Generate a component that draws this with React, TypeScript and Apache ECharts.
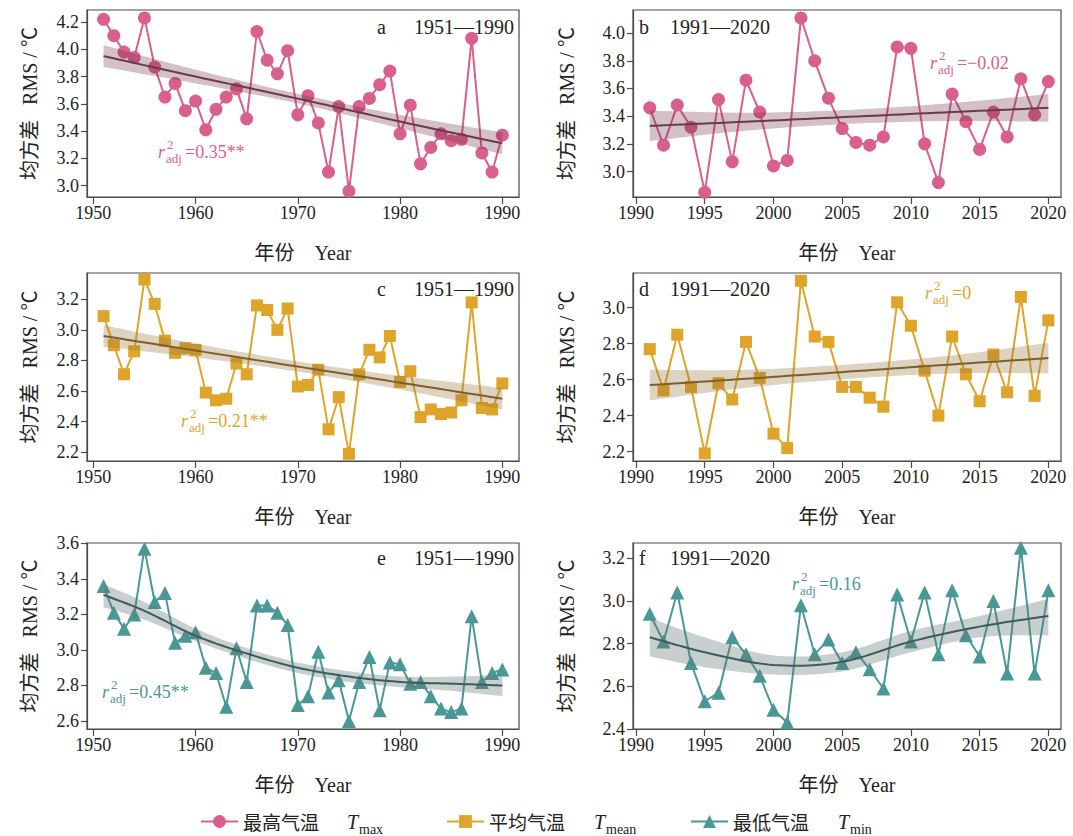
import React, { useEffect, useRef } from "react";
import * as echarts from "echarts";

// ---------- data ----------
const years1 = [1951,1952,1953,1954,1955,1956,1957,1958,1959,1960,1961,1962,1963,1964,1965,1966,1967,1968,1969,1970,1971,1972,1973,1974,1975,1976,1977,1978,1979,1980,1981,1982,1983,1984,1985,1986,1987,1988,1989,1990];
const years2 = [1991,1992,1993,1994,1995,1996,1997,1998,1999,2000,2001,2002,2003,2004,2005,2006,2007,2008,2009,2010,2011,2012,2013,2014,2015,2016,2017,2018,2019,2020];

const tmax1 = [4.22,4.10,3.98,3.94,4.23,3.87,3.65,3.75,3.55,3.62,3.41,3.56,3.65,3.71,3.49,4.13,3.92,3.82,3.99,3.52,3.66,3.46,3.10,3.58,2.96,3.58,3.64,3.74,3.84,3.38,3.59,3.16,3.28,3.38,3.33,3.34,4.08,3.24,3.10,3.37];
const tmax2 = [3.46,3.19,3.48,3.32,2.85,3.52,3.07,3.66,3.43,3.04,3.08,4.11,3.80,3.53,3.31,3.21,3.19,3.25,3.90,3.89,3.20,2.92,3.56,3.36,3.16,3.43,3.25,3.67,3.41,3.65];
const tmean1 = [3.09,2.90,2.71,2.86,3.33,3.17,2.93,2.85,2.88,2.87,2.59,2.54,2.55,2.78,2.71,3.16,3.13,3.00,3.14,2.63,2.64,2.74,2.35,2.56,2.19,2.71,2.87,2.82,2.96,2.66,2.73,2.43,2.48,2.45,2.46,2.54,3.18,2.49,2.48,2.65];
const tmean2 = [2.77,2.54,2.85,2.56,2.19,2.58,2.49,2.81,2.61,2.30,2.22,3.15,2.84,2.81,2.56,2.56,2.50,2.45,3.03,2.90,2.65,2.40,2.84,2.63,2.48,2.74,2.53,3.06,2.51,2.93];
const tmin1 = [3.36,3.21,3.12,3.20,3.57,3.27,3.32,3.04,3.08,3.10,2.90,2.87,2.68,3.01,2.82,3.25,3.25,3.21,3.14,2.69,2.74,2.99,2.76,2.83,2.60,2.82,2.96,2.66,2.93,2.92,2.81,2.82,2.74,2.67,2.65,2.67,3.19,2.82,2.87,2.89];
const tmin2 = [2.94,2.81,3.04,2.71,2.53,2.57,2.83,2.75,2.65,2.49,2.43,2.98,2.75,2.82,2.71,2.76,2.68,2.59,3.03,2.81,3.04,2.75,3.05,2.84,2.74,3.00,2.66,3.25,2.66,3.05];

// fitted trends and confidence bands
const trYearsA = [1951, 1960, 1970.5, 1980, 1990];
const trFitA = [3.95, 3.80, 3.63, 3.47, 3.31];
const trLoA = [3.87, 3.75, 3.595, 3.42, 3.23];
const trHiA = [4.03, 3.85, 3.665, 3.52, 3.39];

const trYearsB = [1991, 1998, 2005.5, 2013, 2020];
const trFitB = [3.33, 3.36, 3.395, 3.43, 3.46];
const trLoB = [3.22, 3.295, 3.345, 3.365, 3.36];
const trHiB = [3.44, 3.425, 3.445, 3.495, 3.56];

const trYearsC = [1951, 1960, 1970.5, 1980, 1990];
const trFitC = [2.96, 2.865, 2.755, 2.655, 2.55];
const trLoC = [2.89, 2.82, 2.722, 2.61, 2.48];
const trHiC = [3.03, 2.91, 2.788, 2.70, 2.62];

const trYearsD = [1991, 1998, 2005.5, 2013, 2020];
const trFitD = [2.57, 2.605, 2.645, 2.685, 2.72];
const trLoD = [2.485, 2.555, 2.605, 2.635, 2.635];
const trHiD = [2.655, 2.655, 2.685, 2.735, 2.805];

const trYearsE = [1951, 1955, 1960, 1965, 1970, 1975, 1980, 1985, 1990];
const trFitE = [3.31, 3.22, 3.08, 2.98, 2.90, 2.85, 2.82, 2.81, 2.80];
const trLoE = [3.24, 3.17, 3.05, 2.95, 2.87, 2.82, 2.79, 2.77, 2.74];
const trHiE = [3.37, 3.27, 3.12, 3.01, 2.93, 2.88, 2.85, 2.85, 2.86];

const trYearsF = [1991, 1995, 2000, 2005, 2010, 2015, 2020];
const trFitF = [2.83, 2.76, 2.70, 2.715, 2.81, 2.88, 2.93];
const trLoF = [2.74, 2.69, 2.655, 2.67, 2.76, 2.83, 2.84];
const trHiF = [2.92, 2.83, 2.745, 2.76, 2.86, 2.93, 3.01];

const xTicks1 = [1950, 1960, 1970, 1980, 1990];
const xTicks2 = [1990, 1995, 2000, 2005, 2010, 2015, 2020];
const yTicksA = [3.0, 3.2, 3.4, 3.6, 3.8, 4.0, 4.2];
const yTicksB = [3.0, 3.2, 3.4, 3.6, 3.8, 4.0];
const yTicksC = [2.2, 2.4, 2.6, 2.8, 3.0, 3.2];
const yTicksD = [2.2, 2.4, 2.6, 2.8, 3.0];
const yTicksE = [2.6, 2.8, 3.0, 3.2, 3.4, 3.6];
const yTicksF = [2.4, 2.6, 2.8, 3.0, 3.2];

const varNames = ["最高气温", "平均气温", "最低气温"];
const varSubs = ["max", "mean", "min"];
const panelLetters = ["a", "b", "c", "d", "e", "f"];
const periodLabels = ["1951—1990", "1991—2020"];
const r2Texts = ["=0.35**", "=−0.02", "=0.21**", "=0", "=0.45**", "=0.16"];

// ---------- styling ----------
const SERIF = "'Liberation Serif', 'Times New Roman', serif";
const MIXED = "'Liberation Serif', 'Noto Sans CJK SC', serif";
const CJK = "'Noto Sans CJK SC', sans-serif";
const TXT = "#222";
const AX = "#4a4a4a";

const varStyles = [
  { color: "#D9608C", symbol: "circle", size: 13, trend: "#6B3A4A", band: "rgba(112,48,70,0.30)" },
  { color: "#DFA42A", symbol: "rect", size: 12, trend: "#7D5F2A", band: "rgba(150,118,60,0.32)" },
  { color: "#4A9896", symbol: "triangle", size: 14, trend: "#3F5B5B", band: "rgba(98,118,118,0.35)" },
];

function spline(pts: number[][], steps = 12): number[][] {
  const out: number[][] = [];
  for (let i = 0; i < pts.length - 1; i++) {
    const p0 = pts[i - 1] || pts[i];
    const p1 = pts[i];
    const p2 = pts[i + 1];
    const p3 = pts[i + 2] || pts[i + 1];
    for (let s = 0; s < steps; s++) {
      const t = s / steps, t2 = t * t, t3 = t2 * t;
      const f = (k: number) =>
        0.5 * (2 * p1[k] + (-p0[k] + p2[k]) * t + (2 * p0[k] - 5 * p1[k] + 4 * p2[k] - p3[k]) * t2 + (-p0[k] + 3 * p1[k] - 3 * p2[k] + p3[k]) * t3);
      out.push([f(0), f(1)]);
    }
  }
  out.push(pts[pts.length - 1]);
  return out;
}

function txt(x: number, y: number, text: string, size: number, fill: string, align = "left", extra: any = {}) {
  return { type: "text", x, y, silent: true, style: { text, fontSize: size, fontFamily: SERIF, fill, align, verticalAlign: "middle", ...extra } };
}

function buildOption() {
  const panels = [
    { col: 0, row: 0, v: 0, years: years1, vals: tmax1, yMin: 2.917, yMax: 4.288, yTicks: yTicksA, tr: [trYearsA, trFitA, trLoA, trHiA], r2: [158, 152] },
    { col: 1, row: 0, v: 0, years: years2, vals: tmax2, yMin: 2.816, yMax: 4.167, yTicks: yTicksB, tr: [trYearsB, trFitB, trLoB, trHiB], r2: [930, 63] },
    { col: 0, row: 1, v: 1, years: years1, vals: tmean1, yMin: 2.143, yMax: 3.372, yTicks: yTicksC, tr: [trYearsC, trFitC, trLoC, trHiC], r2: [181, 421] },
    { col: 1, row: 1, v: 1, years: years2, vals: tmean2, yMin: 2.148, yMax: 3.193, yTicks: yTicksD, tr: [trYearsD, trFitD, trLoD, trHiD], r2: [925, 293] },
    { col: 0, row: 2, v: 2, years: years1, vals: tmin1, yMin: 2.555, yMax: 3.602, yTicks: yTicksE, tr: [trYearsE, trFitE, trLoE, trHiE], r2: [102, 692] },
    { col: 1, row: 2, v: 2, years: years2, vals: tmin2, yMin: 2.4, yMax: 3.272, yTicks: yTicksF, tr: [trYearsF, trFitF, trLoF, trHiF], r2: [792, 584] },
  ];
  const rowTop = [10, 273, 543];
  const rowH = [187, 188, 186];
  const colLeft = [87, 633];
  const colW = [432, 428];
  const labelY = [27, 289, 558];

  const grid: any[] = [];
  const xAxis: any[] = [];
  const yAxis: any[] = [];
  const series: any[] = [];
  const graphic: any[] = [];

  panels.forEach((p, i) => {
    const st = varStyles[p.v];
    grid.push({
      left: colLeft[p.col], top: rowTop[p.row], width: colW[p.col], height: rowH[p.row],
      show: true, borderColor: AX, borderWidth: 1.2, backgroundColor: "transparent",
    });
    const xt = p.col === 0 ? xTicks1 : xTicks2;
    xAxis.push({
      type: "value", gridIndex: i,
      min: p.col === 0 ? 1949.38 : 1989.78, max: p.col === 0 ? 1991.63 : 2020.92,
      splitLine: { show: false },
      axisLine: { show: true, lineStyle: { color: AX, width: 1.2 } },
      axisTick: { show: true, length: 7, customValues: xt, lineStyle: { color: AX, width: 1.2 } },
      axisLabel: { customValues: xt, formatter: (v: number) => String(Math.round(v)), color: TXT, fontSize: 18, fontFamily: SERIF, margin: 7, hideOverlap: false },
      name: "年份    Year", nameLocation: "middle", nameGap: 46,
      nameTextStyle: { color: TXT, fontSize: 20, fontFamily: MIXED },
    });
    yAxis.push({
      type: "value", gridIndex: i, min: p.yMin, max: p.yMax,
      splitLine: { show: false },
      axisLine: { show: true, lineStyle: { color: AX, width: 1.2 } },
      axisTick: { show: true, length: 6, customValues: p.yTicks, lineStyle: { color: AX, width: 1.2 } },
      axisLabel: { customValues: p.yTicks, formatter: (v: number) => v.toFixed(1), color: TXT, fontSize: 18, fontFamily: SERIF, margin: 8, hideOverlap: false },
      name: "均方差   RMS / ℃", nameLocation: "middle", nameRotate: 90, nameGap: p.col === 0 ? 47 : 56,
      nameTextStyle: { color: TXT, fontSize: 20, fontFamily: MIXED },
    });
    series.push({
      type: "line", name: varNames[p.v], xAxisIndex: i, yAxisIndex: i,
      data: p.years.map((y, k) => [y, p.vals[k]]),
      symbol: st.symbol, symbolSize: st.size, showSymbol: true,
      itemStyle: { color: st.color, opacity: 1 },
      lineStyle: { color: st.color, width: 2 },
      z: 2,
    });
    const [ty, tf, tl, th] = p.tr;
    series.push({
      type: "custom", name: "trend-" + panelLetters[i], xAxisIndex: i, yAxisIndex: i,
      data: ty.map((y, k) => [y, tf[k], tl[k], th[k]]),
      encode: { x: 0, y: 1 }, silent: true, z: 3, clip: false,
      renderItem: (params: any, api: any) => {
        if (params.dataIndex !== 0) return null;
        const hi = spline(ty.map((y, k) => api.coord([y, th[k]])));
        const lo = spline(ty.map((y, k) => api.coord([y, tl[k]]))).reverse();
        const fit = spline(ty.map((y, k) => api.coord([y, tf[k]])));
        return {
          type: "group",
          children: [
            { type: "polygon", shape: { points: hi.concat(lo) }, style: { fill: st.band } },
            { type: "polyline", shape: { points: fit }, style: { stroke: st.trend, lineWidth: 2, fill: "none" } },
          ],
        };
      },
    });

    // panel label
    if (p.col === 0) {
      graphic.push(txt(377, labelY[p.row], panelLetters[i], 20, TXT));
      graphic.push(txt(514, labelY[p.row], periodLabels[0], 20, TXT, "right"));
    } else {
      graphic.push(txt(639, labelY[p.row], panelLetters[i], 20, TXT));
      graphic.push(txt(670, labelY[p.row], periodLabels[1], 20, TXT));
    }
    // r2 annotation
    const [ax, ay] = p.r2;
    graphic.push(txt(ax, ay, "r", 18, st.color, "left", { fontStyle: "italic" }));
    graphic.push(txt(ax + 9, ay - 8, "2", 13, st.color));
    graphic.push(txt(ax + 8, ay + 6, "adj", 13, st.color));
    graphic.push(txt(ax + 27, ay, r2Texts[i], 18, st.color));
  });

  // legend: icons + Chinese names by the legend component, T symbols as text
  const legendLeft = [200, 446, 690];
  const tX = [347, 594, 838];
  const legend = varNames.map((n, i) => ({
    data: [n], left: legendLeft[i], top: 812, itemWidth: 37, itemHeight: 16, itemGap: 0, padding: 0,
    selectedMode: false,
    textStyle: { fontSize: 19, fontFamily: CJK, color: TXT },
  }));
  varNames.forEach((n, i) => {
    graphic.push(txt(tX[i], 822, "T", 20, TXT, "left", { fontStyle: "italic" }));
    graphic.push(txt(tX[i] + 12, 829, varSubs[i], 14, TXT));
  });

  return { animation: false, backgroundColor: "#fff", grid, xAxis, yAxis, series, graphic, legend };
}

export default function App() {
  const ref = useRef<HTMLDivElement>(null);
  useEffect(() => {
    const chart = echarts.init(ref.current as HTMLDivElement, null, { renderer: "svg" });
    chart.setOption(buildOption() as any);
    return () => chart.dispose();
  }, []);
  return <div ref={ref} style={{ position: "absolute", left: 0, top: 0, width: 1073, height: 836, background: "#fff" }} />;
}
